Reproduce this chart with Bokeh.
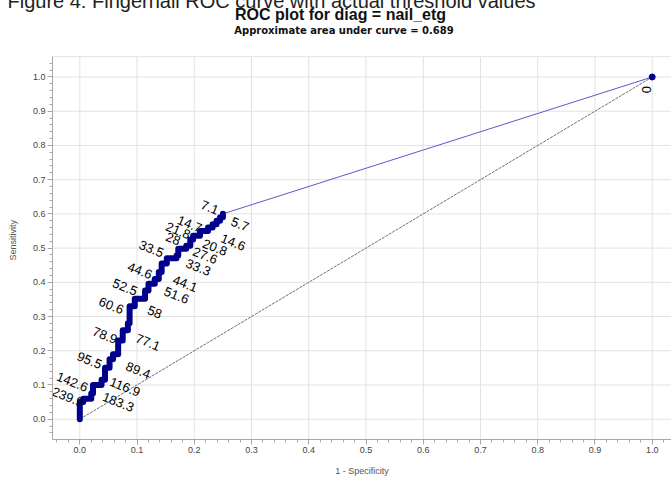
import math
from bokeh.plotting import figure
from bokeh.models import Title, Range1d, ColumnDataSource, SingleIntervalTicker, NumeralTickFormatter
from bokeh.core.properties import value
from bokeh.embed import file_html
from bokeh.resources import INLINE

# ROC staircase (1 - specificity, sensitivity)
fpr = [0.0, 0.0, 0.006, 0.006, 0.02, 0.02, 0.023, 0.023, 0.038, 0.038, 0.044, 0.044,
       0.052, 0.052, 0.058, 0.058, 0.067, 0.067, 0.075, 0.075, 0.084, 0.084, 0.087, 0.087,
       0.096, 0.096, 0.114, 0.114, 0.12, 0.12, 0.131, 0.131, 0.138, 0.138, 0.143, 0.143,
       0.152, 0.152, 0.169, 0.169, 0.172, 0.172, 0.186, 0.186, 0.193, 0.193, 0.198, 0.198,
       0.21, 0.21, 0.224, 0.224, 0.232, 0.232, 0.239, 0.239, 0.245, 0.245, 0.25, 0.25]
tpr = [0.0, 0.05, 0.05, 0.06, 0.06, 0.075, 0.075, 0.1, 0.1, 0.115, 0.115, 0.15,
       0.15, 0.175, 0.175, 0.19, 0.19, 0.23, 0.23, 0.26, 0.26, 0.28, 0.28, 0.33,
       0.33, 0.352, 0.352, 0.376, 0.376, 0.396, 0.396, 0.41, 0.41, 0.43, 0.43, 0.455,
       0.455, 0.47, 0.47, 0.478, 0.478, 0.498, 0.498, 0.507, 0.507, 0.525, 0.525, 0.536,
       0.536, 0.55, 0.55, 0.56, 0.56, 0.57, 0.57, 0.58, 0.58, 0.59, 0.59, 0.6]

# last segment to threshold 0 at (1, 1)
tail_fpr = [0.25, 1.0]
tail_tpr = [0.6, 1.0]
end_fpr = [1.0]
end_tpr = [1.0]

# chance diagonal
diag_x = [0.0, 1.0]
diag_y = [0.0, 1.0]

# tick / grid values
tick_vals = [0.0, 0.1, 0.2, 0.3, 0.4, 0.5, 0.6, 0.7, 0.8, 0.9, 1.0]

# threshold labels and their positions (data units)
threshold_labels = ["239.9", "142.6", "95.5", "78.9", "60.6", "52.5", "44.6", "33.5",
                    "28", "21.8", "14.7", "7.1",
                    "183.3", "116.9", "89.4", "77.1", "58", "51.6", "44.1", "33.3",
                    "27.6", "20.8", "14.6", "5.7"]
label_x = [-0.021, -0.013, 0.017, 0.044, 0.055, 0.079, 0.105, 0.125,
           0.163, 0.172, 0.192, 0.227,
           0.067, 0.079, 0.102, 0.119, 0.131, 0.169, 0.184, 0.207,
           0.219, 0.236, 0.268, 0.28]
label_y = [0.065, 0.109, 0.172, 0.245, 0.332, 0.386, 0.434, 0.498,
           0.527, 0.551, 0.57, 0.619,
           0.05, 0.094, 0.143, 0.225, 0.313, 0.362, 0.396, 0.444,
           0.478, 0.502, 0.517, 0.57]
zero_label = ["0"]
zero_x = [0.99]
zero_y = [0.963]

title_text = "ROC plot for diag = nail_etg"
subtitle_text = "Approximate area under curve = 0.689"
caption_text = "Figure 4: Fingernail ROC curve with actual threshold values"
x_label = "1 - Specificity"
y_label = "Sensitivity"

FONT = "Liberation Sans, Arial, sans-serif"

# plot window (data units); the area above Y_TOP holds the titles
X_START, X_END = -0.0477, 1.0337
Y_START, Y_TOP, Y_CANVAS = -0.0594, 1.0594, 1.2148

p = figure(width=671, height=478, output_backend="svg", toolbar_location=None,
           x_range=Range1d(X_START, X_END), y_range=Range1d(Y_START, Y_CANVAS),
           min_border_left=52, min_border_right=0, min_border_top=0, min_border_bottom=39)
p.background_fill_color = "white"
p.border_fill_color = "white"
p.outline_line_color = None
p.grid.visible = False

for ax in (p.xaxis[0], p.yaxis[0]):
    ax.ticker = SingleIntervalTicker(interval=0.1, num_minor_ticks=5)
    ax.formatter = NumeralTickFormatter(format="0.0")
    ax.axis_line_color = "#a8a8a8"
    ax.major_tick_line_color = "#a8a8a8"
    ax.minor_tick_line_color = "#a8a8a8"
    ax.major_tick_out = 5
    ax.major_tick_in = 0
    ax.minor_tick_out = 3
    ax.minor_tick_in = 0
    ax.major_label_text_font = FONT
    ax.major_label_text_font_size = "9px"
    ax.major_label_text_color = "#444444"
    ax.axis_label_text_font = FONT
    ax.axis_label_text_font_size = "9px"
    ax.axis_label_text_font_style = "normal"
    ax.axis_label_text_color = "#555555"
    ax.major_label_standoff = 2

p.yaxis.bounds = (Y_START, Y_TOP)
p.xaxis.axis_label = x_label
# the axis label is centred on the whole window; trailing no-break spaces move it
# down to the middle of the plotting area
p.yaxis.axis_label = y_label + "\u00a0" * 15
p.xaxis.axis_label_standoff = 10
p.yaxis.axis_label_standoff = 12

# grid lines and top frame edge, limited to the plotting window
n = len(tick_vals)
GRID = "#e2e2e2"
p.segment(x0=tick_vals, y0=[Y_START] * n, x1=tick_vals, y1=[Y_TOP] * n,
          line_color=GRID, line_width=1)
p.segment(x0=[X_START] * n, y0=tick_vals, x1=[X_END] * n, y1=tick_vals,
          line_color=GRID, line_width=1)
p.segment(x0=[X_START], y0=[Y_TOP], x1=[X_END], y1=[Y_TOP], line_color=GRID, line_width=1)

# diagonal reference
p.line(diag_x, diag_y, line_color="#6e6e6e", line_width=1, line_dash="3 1")
# tail line
p.line(tail_fpr, tail_tpr, line_color="#5a5ac8", line_width=1)
# ROC curve
p.line(fpr, tpr, line_color="#00008c", line_width=6, line_join="round", line_cap="round")
p.scatter(end_fpr, end_tpr, size=6, color="#00008c")

lab_src = ColumnDataSource(dict(x=label_x, y=label_y, t=threshold_labels))
p.text(x="x", y="y", text="t", source=lab_src, angle=-0.38,
       text_font=value(FONT), text_font_size="13px", text_color="black",
       text_align="center", text_baseline="middle")
p.text(x=zero_x, y=zero_y, text=zero_label, angle=math.pi / 2,
       text_font=value(FONT), text_font_size="13px", text_color="black",
       text_align="center", text_baseline="middle")

# chart titles inside the window above the plotting area
p.text(x=[0.4555], y=[1.1825], text=[title_text], text_font=value(FONT),
       text_font_size="16px", text_font_style="bold", text_color="#111111",
       text_align="center", text_baseline="middle")
p.text(x=[0.4615], y=[1.1365], text=[subtitle_text], text_font=value("DejaVu Sans"),
       text_font_size="10px", text_font_style="bold", text_color="#111111",
       text_align="center", text_baseline="middle")

# figure caption, partly cut by the top edge as in the source image
p.add_layout(Title(text=caption_text, align="left", offset=-45, standoff=-21,
                   vertical_align="top",
                   text_font=FONT, text_font_size="20px", text_font_style="normal",
                   text_color="#222222"), "above")

open("out.html", "w").write(file_html(p, INLINE))
